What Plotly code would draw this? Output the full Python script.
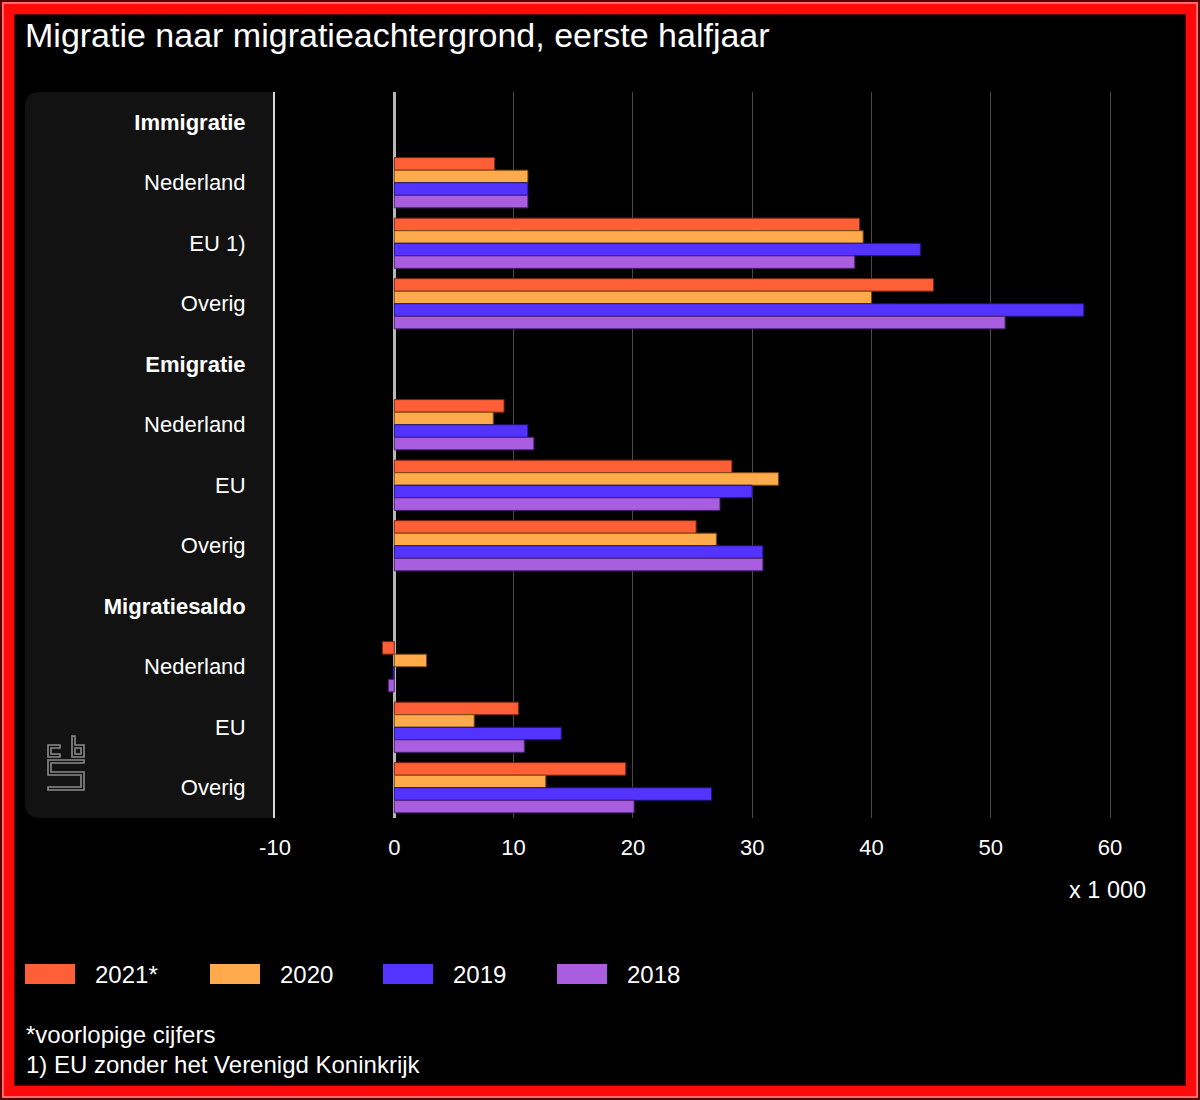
import plotly.graph_objects as go

# ---------------- data ----------------
groups = ["Immigratie", "Emigratie", "Migratiesaldo"]
subcats = [["Nederland", "EU 1)", "Overig"],
           ["Nederland", "EU", "Overig"],
           ["Nederland", "EU", "Overig"]]
years = ["2021*", "2020", "2019", "2018"]
v2021 = [8.4, 39.0, 45.2, 9.2, 28.3, 25.3, -1.0, 10.4, 19.4]
v2020 = [11.2, 39.3, 40.0, 8.3, 32.2, 27.0, 2.7, 6.7, 12.7]
v2019 = [11.2, 44.1, 57.8, 11.2, 30.0, 30.9, -0.1, 14.0, 26.6]
v2018 = [11.2, 38.6, 51.2, 11.7, 27.3, 30.9, -0.5, 10.9, 20.1]
xticks = [-10, 0, 10, 20, 30, 40, 50, 60]
title = "Migratie naar migratieachtergrond, eerste halfjaar"
unit = "x 1 000"
notes = ["*voorlopige cijfers", "1) EU zonder het Verenigd Koninkrijk"]

colors = ["#FF5F37", "#FFAA4B", "#5333FF", "#A95EE0"]
edge = ["#7a2410", "#7a4a10", "#221070", "#4a2070"]

# ---------------- categories ----------------
keys, labels = [], []
data_keys = []
for g, subs in zip(groups, subcats):
    keys.append(g)
    labels.append("<b>" + g + "</b>")
    for s in subs:
        k = g + "|" + s
        keys.append(k)
        labels.append(s)
        data_keys.append(k)

W, H = 1200, 1100
L, R, T, B = 275, 78, 92, 282
PW, PH = W - L - R, H - T - B

def px(x):
    return (x - L) / PW

def py(y):
    return (H - B - y) / PH

fig = go.Figure()
for name, vals, c, e in zip(years, [v2021, v2020, v2019, v2018], colors, edge):
    fig.add_trace(go.Bar(
        y=data_keys, x=vals, name=name, orientation="h",
        marker=dict(color=c, line=dict(color=e, width=1)),
        showlegend=False, hoverinfo="x+name",
    ))

font = "Liberation Sans, Arial, sans-serif"
shapes = []
ann = []

# label panel (rounded left corners)
r = 15
x0, x1, y0, y1 = 25, 273, 92, 818
path = (f"M{px(x1)},{py(y0)} L{px(x0 + r)},{py(y0)} "
        f"Q{px(x0)},{py(y0)} {px(x0)},{py(y0 + r)} "
        f"L{px(x0)},{py(y1 - r)} Q{px(x0)},{py(y1)} {px(x0 + r)},{py(y1)} "
        f"L{px(x1)},{py(y1)} Z")
shapes.append(dict(type="path", xref="paper", yref="paper", path=path,
                   fillcolor="#121212", line=dict(width=0), layer="below"))

# cbs logo outline
logo_paths = [
    [(60, 745), (48, 745), (48, 757), (60, 757), (60, 754), (51, 754), (51, 748), (60, 748)],
    [(72, 736), (75, 736), (75, 745), (84, 745), (84, 757), (72, 757)],
    [(75, 748), (81, 748), (81, 754), (75, 754)],
    [(84, 760), (48, 760), (48, 775), (81, 775), (81, 787), (48, 787), (48, 790), (84, 790),
     (84, 772), (51, 772), (51, 763), (84, 763)],
]
for pts in logo_paths:
    p = "M" + " L".join(f"{px(a)},{py(b)}" for a, b in pts) + " Z"
    shapes.append(dict(type="path", xref="paper", yref="paper", path=p,
                       line=dict(color="#8a8a8a", width=1.6), fillcolor="rgba(0,0,0,0)"))

# red frame
frames = [(7.5, 14, "#ff0a0a"), (1, 2, "#5a0000"), (3, 2, "#ff6a6a"), (15, 1.5, "#300000")]
for inset, w, c in frames:
    shapes.append(dict(type="rect", xref="paper", yref="paper",
                       x0=px(inset), x1=px(W - inset), y0=py(inset), y1=py(H - inset),
                       line=dict(color=c, width=w), fillcolor="rgba(0,0,0,0)", layer="above"))

# legend (manual swatches)
leg_x = [25, 210, 383, 557]
for xpos, name, c in zip(leg_x, years, colors):
    shapes.append(dict(type="rect", xref="paper", yref="paper",
                       x0=px(xpos), x1=px(xpos + 50), y0=py(984), y1=py(964),
                       fillcolor=c, line=dict(width=0)))
    ann.append(dict(text=name, xref="paper", yref="paper", x=px(xpos + 68), y=py(974),
                    xanchor="left", yanchor="middle", showarrow=False,
                    font=dict(color="white", size=24, family=font)))

ann.append(dict(text=title, xref="paper", yref="paper", x=px(23), y=py(35),
                xanchor="left", yanchor="middle", showarrow=False,
                font=dict(color="white", size=34, family=font)))
ann.append(dict(text=unit, xref="paper", yref="paper", x=px(1148), y=py(890),
                xanchor="right", yanchor="middle", showarrow=False,
                font=dict(color="white", size=23.5, family=font)))
for i, n in enumerate(notes):
    ann.append(dict(text=n, xref="paper", yref="paper", x=px(24), y=py(1034 + 30 * i),
                    xanchor="left", yanchor="middle", showarrow=False,
                    font=dict(color="white", size=24, family=font)))

fig.update_layout(
    width=W, height=H,
    margin=dict(l=L, r=R, t=T, b=B, pad=0),
    paper_bgcolor="black", plot_bgcolor="black",
    barmode="group", bargap=0.17, bargroupgap=0,
    showlegend=False,
    font=dict(family=font, color="white"),
    shapes=shapes, annotations=ann,
    xaxis=dict(range=[-10, 61], tickvals=xticks, ticktext=[str(t) for t in xticks],
               showgrid=True, gridcolor="#4a4a4a", gridwidth=1,
               zeroline=True, zerolinecolor="#b8b8b8", zerolinewidth=3,
               ticks="", ticklabelstandoff=14,
               tickfont=dict(size=22, color="white", family=font), fixedrange=True),
    yaxis=dict(categoryorder="array", categoryarray=keys, tickmode="array",
               tickvals=keys, ticktext=labels, range=[len(keys) - 0.5, -0.5],
               showgrid=False, zeroline=False, showline=True, linecolor="#d8d8d8",
               linewidth=2, ticks="", ticklabelstandoff=23,
               tickfont=dict(size=22, color="white", family=font), fixedrange=True),
)

fig.write_html("out.html", config={"displayModeBar": False},
               post_script="document.body.style.margin='0';document.body.style.background='black';")
